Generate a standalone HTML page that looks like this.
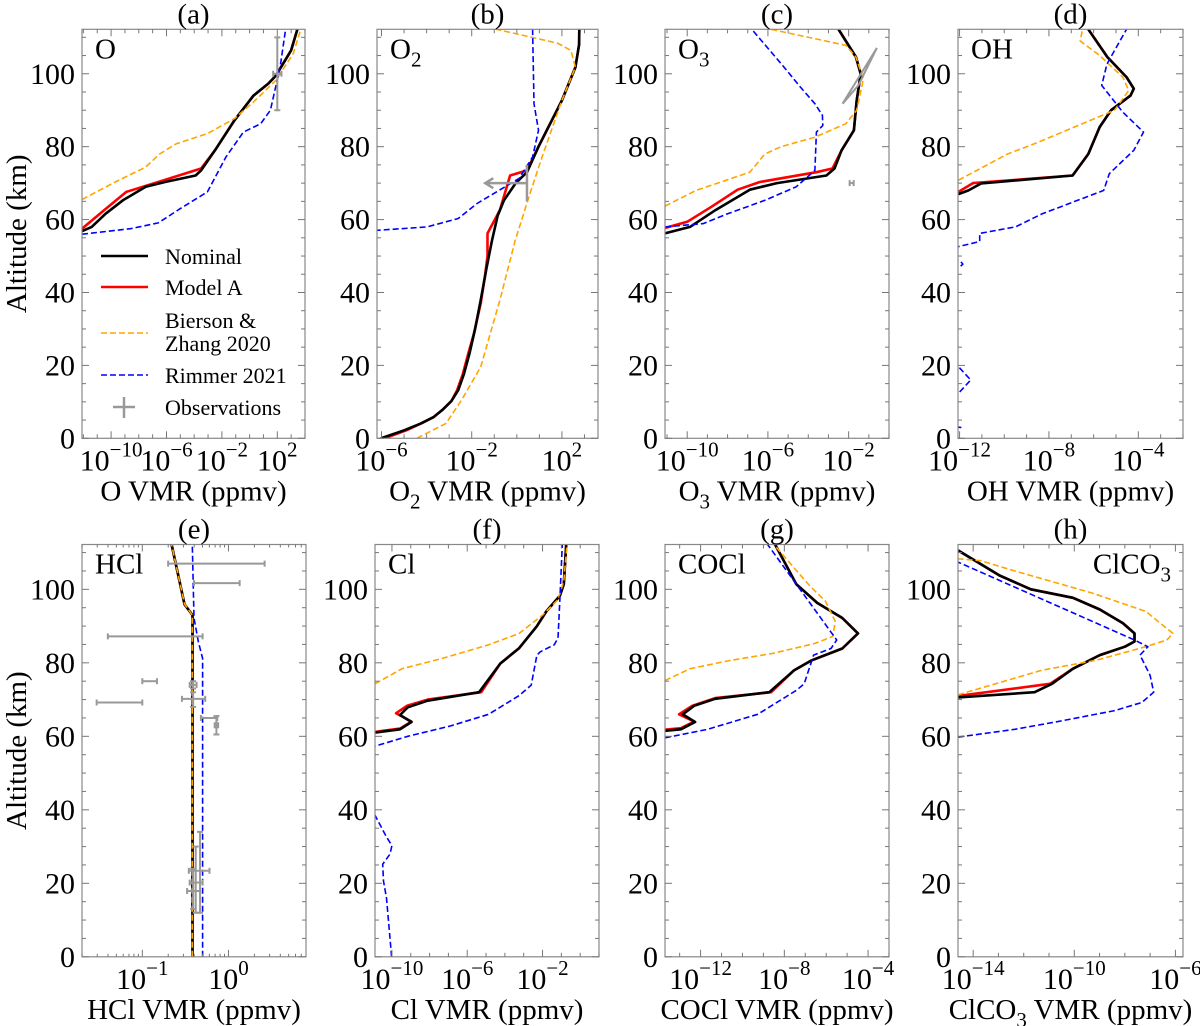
<!DOCTYPE html>
<html><head><meta charset="utf-8"><style>
html,body{margin:0;padding:0;background:#fff;}
svg{display:block;font-family:"Liberation Serif","Times New Roman",serif;}
</style></head><body>
<svg id="fig" width="1200" height="1026" viewBox="0 0 1200 1026" xmlns="http://www.w3.org/2000/svg"></svg>
<script>
// ---- data: [log10 VMR (ppmv), altitude km] ----
const O_nom=[[-12.1,56.8],[-11.4,58],[-10.4,61.6],[-9.15,65.3],[-7.5,69],[-6.1,70.3],[-3.9,72.1],[-3.5,73.5],[-2.5,79],[-1.1,87.2],[0.28,94],[1.35,97.3],[1.9,99.5],[3.0,106.4],[3.45,112.2]];
const O_modA=[[-12.1,57.5],[-10.5,62.6],[-8.9,67.6],[-6.6,70.3],[-3.5,74],[-2.5,79],[-1.1,87.2],[0.28,94],[1.35,97.3],[1.9,99.5],[3.0,106.4],[3.45,112.2]];
const O_bz=[[-12.1,65.5],[-9.7,70.3],[-7.5,74.4],[-6.5,78],[-5.3,80.8],[-3.05,83.6],[-1.1,87.7],[0.27,92.2],[1.9,98.2],[3.15,105.5],[3.7,112.2]];
const O_r21=[[-12.1,56],[-8.6,57.5],[-6.6,59.1],[-5,63],[-3.05,67.6],[-1.7,77.2],[-0.45,84],[0.8,86.3],[1.5,90],[2.2,101.8],[2.6,112.2]];
const O2_nom=[[-6.03,0],[-5.0,2.2],[-4.25,4.1],[-3.7,5.8],[-3.3,7.8],[-2.9,10.2],[-2.6,13.2],[-2.35,17.5],[-2.1,23.3],[-1.85,30],[-1.6,37.9],[-1.35,46.5],[-1.1,54.3],[-0.85,61],[-0.57,65.3],[-0.05,70],[0.45,73],[0.96,80],[2.0,92.7],[2.6,101.8],[2.76,108],[2.77,112.2]];
const O2_modA=[[-5.86,0],[-4.9,2.2],[-4.25,4.1],[-3.7,5.8],[-3.3,7.8],[-2.9,10.2],[-2.65,13.2],[-2.4,17.5],[-2.15,23.3],[-1.9,28.8],[-1.6,37],[-1.4,45],[-1.3,50],[-1.3,56.2],[-0.75,62.6],[-0.3,72.1],[0.45,73.5],[0.96,80],[2.0,92.7],[2.6,101.8],[2.76,108],[2.77,112.2]];
const O2_bz=[[-4.43,0],[-3.14,4.1],[-2.45,10.5],[-1.6,19.6],[-0.75,37.9],[-0.07,54.3],[0.63,68],[1.12,77.2],[2.0,92.7],[2.6,101.8],[2.4,106.4],[1.81,108.4],[-0.9,112.2]];
const O2_r21=[[-6.3,57],[-3.98,58],[-2.6,60.3],[-1.76,64.4],[-0.9,67.6],[0.1,71.3],[0.7,77.2],[0.96,84.5],[0.76,91.8],[0.7,112.2]];
const O3_nom=[[-11.1,56.2],[-9.86,58],[-8.6,62.6],[-6.9,68.2],[-5.55,70],[-3.1,72.1],[-2.7,74],[-2.35,79],[-1.74,84.5],[-1.6,92.7],[-1.4,100],[-1.64,104.6],[-2.5,112.2]];
const O3_modA=[[-11.1,57.7],[-10.0,59.4],[-8.8,63.5],[-7.5,68.2],[-6.4,70.3],[-3.6,73],[-2.8,74],[-2.35,79],[-1.74,84.5],[-1.6,92.7],[-1.4,100],[-1.64,104.6],[-2.5,112.2]];
const O3_bz=[[-11.1,63.7],[-9.56,68],[-6.9,73],[-6.15,78],[-5.35,80],[-3.67,82.6],[-2.14,86.3],[-1.6,90],[-1.27,98.6],[-1.64,104.6],[-2.14,107.8],[-5.85,112.2]];
const O3_r21=[[-11.1,58],[-9.2,58.9],[-8.0,61.6],[-6.15,65.3],[-4.6,69],[-3.67,73.5],[-3.6,84],[-3.28,85.8],[-3.3,88.6],[-3.67,91.8],[-4.4,96.4],[-5.2,101.8],[-6.8,112.2]];
const O3_obsLine=[[-2.3,91.8],[-0.6,107.1],[-1.52,96.8],[-2.3,91.8]];
const OH_nom=[[-12.05,67],[-11.6,68],[-11.04,69.9],[-6.94,72.1],[-6.24,78],[-5.73,85.4],[-5.22,90],[-4.35,94],[-4.2,95.9],[-4.53,99.1],[-5.39,104.6],[-6.24,112.2]];
const OH_modA=[[-12.05,67.6],[-11.4,70],[-6.94,72.1],[-6.24,78],[-5.73,85.4],[-5.22,90],[-4.35,94],[-4.2,95.9],[-4.53,99.1],[-5.39,104.6],[-6.24,112.2]];
const OH_bz=[[-12.05,70.8],[-9.85,78],[-8.65,80.8],[-5.06,90],[-4.43,95.4],[-4.7,99.1],[-5.73,105],[-6.6,109],[-6.5,112.2]];
const OH_r21=[[-14,1.5],[-11.95,3],[-14,4.5],[-14,11],[-12.1,12],[-11.5,16],[-12.1,20],[-14,21],[-14,46],[-12.0,47],[-11.85,47.8],[-12.0,48.8],[-14,50],[-14,52],[-12.1,52.5],[-11.1,54],[-11.1,56.2],[-9.5,58],[-8.3,61.6],[-5.55,68],[-5.3,72.6],[-4.2,79],[-3.77,84],[-4.7,89.5],[-5.64,96.8],[-5.4,102.7],[-4.53,112.2]];
const HCl_nom=[[-0.417,0],[-0.417,93],[-0.51,95.9],[-0.66,112.2]];
const HCl_modA=[[-0.417,0],[-0.417,93],[-0.51,95.9],[-0.66,112.2]];
const HCl_bz=[[-0.42,0],[-0.42,93],[-0.51,96],[-0.66,112.2]];
const HCl_r21=[[-0.3,0],[-0.3,81.2],[-0.35,85.8],[-0.4,92.2],[-0.42,112.2]];
// obs: [value, alt, xlo, xhi, altlo, althi]
const HCl_obs=[[0.16,107,-0.7,0.42,107,107],[-0.06,101.7,-0.4,0.13,101.7,101.7],[-0.57,87.2,-1.4,-0.3,87.2,87.2],[-0.91,75,-1.0,-0.83,75,75],[-1.2,69.2,-1.53,-1.0,69.2,69.2],[-0.41,74,-0.45,-0.37,73,75],[-0.41,70.2,-0.54,-0.27,68,72],[-0.24,65,-0.32,-0.13,65,65],[-0.14,63,-0.16,-0.12,60.5,65.5],[-0.33,23.4,-0.46,-0.22,12,34],[-0.38,20.2,-0.45,-0.3,12,30],[-0.41,17.9,-0.48,-0.33,13,24]];
const O_obs=[[2.0,100,1.7,2.3,90,110]];
const O3_obs=[[-1.85,70,-1.95,-1.75,70,70]];
const Cl_nom=[[-10.9,61],[-9.57,61.9],[-8.96,63.9],[-9.57,65.8],[-9.16,67.9],[-8.1,69.7],[-5.37,72],[-4.25,79.8],[-3.24,84],[-2.31,89.9],[-1.8,94],[-1.08,98.2],[-0.87,101.4],[-0.74,112.2]];
const Cl_modA=[[-10.9,61.2],[-9.57,62.1],[-8.96,64],[-9.78,66.3],[-9.2,68.3],[-8.1,70],[-5.26,72],[-4.25,79.8],[-3.24,84],[-2.31,89.9],[-1.8,94],[-1.08,98.2],[-0.87,101.4],[-0.74,112.2]];
const Cl_bz=[[-10.9,74.3],[-9.46,78.4],[-7.33,81.2],[-4.86,84.9],[-3.24,88],[-2.0,93],[-1.18,97.2],[-0.87,102.3],[-0.7,112.2]];
const Cl_r21=[[-10.02,0],[-10.29,16],[-10.45,20.6],[-10.49,25.2],[-10.1,28],[-10.0,30.3],[-10.29,32.6],[-10.9,38.5],[-13,45],[-13,56],[-10.9,57.3],[-9.16,60],[-6.9,62.8],[-4.86,66],[-3.24,71.1],[-2.6,73.9],[-2.3,82.1],[-2.12,83],[-1.38,84.9],[-1.18,86.7],[-1.08,96.8],[-0.95,112.2]];
const COCl_nom=[[-13.7,61.5],[-12.94,61.9],[-12.26,63.9],[-12.85,66],[-12.31,68.3],[-11.3,70.2],[-8.72,72],[-7.53,78],[-6.69,80.7],[-5.23,83.9],[-4.48,88],[-5.23,92.2],[-6.43,96.3],[-7.43,101.4],[-8.44,112.2]];
const COCl_modA=[[-13.7,61.8],[-12.94,62.2],[-12.3,64],[-13.03,66],[-12.4,68.3],[-11.3,70.4],[-8.63,72],[-7.53,78],[-6.69,80.7],[-5.23,83.9],[-4.48,88],[-5.23,92.2],[-6.43,96.3],[-7.43,101.4],[-8.44,112.2]];
const COCl_bz=[[-13.7,75.2],[-12.5,78.4],[-10.73,80.5],[-8.53,82.6],[-6.52,85.3],[-5.68,87.2],[-5.57,91.3],[-6.04,96.8],[-6.78,100.9],[-7.62,106.4],[-8.5,112.2]];
const COCl_r21=[[-13.7,59.6],[-11.66,61.9],[-9.27,66],[-7.43,72.5],[-7.05,74.3],[-6.6,82.1],[-5.77,83.9],[-5.5,86.2],[-8.8,112.2]];
const ClCO3_nom=[[-14.6,70.6],[-11.57,72],[-10.88,74.3],[-10.05,78.4],[-8.99,82.1],[-8.0,84.4],[-7.62,85.8],[-7.62,88],[-8.08,90.8],[-8.99,94.5],[-10.05,97.7],[-11.72,100],[-12.94,103.7],[-14.6,110.6]];
const ClCO3_modA=[[-14.6,71],[-10.96,74.3],[-10.05,78.4],[-8.99,82.1],[-8.0,84.4],[-7.62,85.8],[-7.62,88],[-8.08,90.8],[-8.99,94.5],[-10.05,97.7],[-11.72,100],[-12.94,103.7],[-14.6,110.6]];
const ClCO3_bz=[[-14.6,71.3],[-11.28,78],[-9.14,80.7],[-7.17,84.4],[-6.34,86.2],[-6.1,88],[-7.17,94],[-9.3,99],[-12.35,105],[-13.7,107.8],[-14.6,108.3]];
const ClCO3_r21=[[-14.6,59.8],[-12.35,61.9],[-10.51,64.2],[-8.4,67],[-7.33,69.2],[-6.86,72],[-7.0,76.6],[-7.4,82.1],[-7.09,84.4],[-7.62,86.2],[-10.51,95],[-14.6,107.4]];
const altTicks=[0,20,40,60,80,100];
const altRange=[0,112.2];

const NS="http://www.w3.org/2000/svg";
const svg=document.getElementById('fig');
function mk(tag,attrs,parent){const e=document.createElementNS(NS,tag);for(const k in attrs)e.setAttribute(k,attrs[k]);(parent||svg).appendChild(e);return e;}

const panels=[
 {id:'a',name:'o',L:82,R:305,T:29.3,B:438.3,xr:[-12.1,4.0],lab:[-10,-6,-2,2],sp:['O',''],xl:['O',''],s:[O_nom,O_modA,O_bz,O_r21],obs:O_obs,yl:true,legend:true},
 {id:'b',name:'o2',L:377,R:598,T:29.3,B:438.3,xr:[-6.2,3.6],lab:[-6,-2,2],sp:['O','2'],xl:['O','2'],s:[O2_nom,O2_modA,O2_bz,O2_r21]},
 {id:'c',name:'o3',L:665,R:889,T:29.3,B:438.3,xr:[-11.1,0],lab:[-10,-6,-2],sp:['O','3'],xl:['O','3'],s:[O3_nom,O3_modA,O3_bz,O3_r21],obs:O3_obs},
 {id:'d',name:'oh',L:958,R:1183,T:29.3,B:438.3,xr:[-12.07,-2.0],lab:[-12,-8,-4],sp:['OH',''],xl:['OH',''],s:[OH_nom,OH_modA,OH_bz,OH_r21]},
 {id:'e',name:'hcl',L:82,R:306,T:544.5,B:956.8,xr:[-1.7,0.9],lab:[-1,0],sp:['HCl',''],xl:['HCl',''],s:[HCl_nom,HCl_modA,HCl_bz,HCl_r21],obs:HCl_obs,yl:true,fine:true},
 {id:'f',name:'cl',L:375,R:599,T:544.5,B:956.8,xr:[-10.9,1.0],lab:[-10,-6,-2],sp:['Cl',''],xl:['Cl',''],s:[Cl_nom,Cl_modA,Cl_bz,Cl_r21]},
 {id:'g',name:'cocl',L:665,R:889,T:544.5,B:956.8,xr:[-13.7,-3.0],lab:[-12,-8,-4],sp:['COCl',''],xl:['COCl',''],s:[COCl_nom,COCl_modA,COCl_bz,COCl_r21]},
 {id:'h',name:'clco3',L:958,R:1183,T:544.5,B:956.8,xr:[-14.6,-5.7],lab:[-14,-10,-6],sp:['ClCO','3'],xl:['ClCO','3'],s:[ClCO3_nom,ClCO3_modA,ClCO3_bz,ClCO3_r21],spRight:true}
];
const styles=[
 {c:'#000000',w:2.6,d:null,n:'nominal'},
 {c:'#ff0000',w:2.6,d:null,n:'model-a'},
 {c:'#ffa500',w:1.6,d:'6,3',n:'bierson-zhang-2020'},
 {c:'#0000ff',w:1.6,d:'6,3',n:'rimmer-2021'}];
const drawOrder=[1,0,2,3];

panels.forEach(p=>{
  const g=mk('g',{});
  
  
  const X=v=>p.L+(v-p.xr[0])/(p.xr[1]-p.xr[0])*(p.R-p.L);
  const Y=a=>p.B-(a-altRange[0])/(altRange[1]-altRange[0])*(p.B-p.T);
  const cp=mk('clipPath',{id:'clip'+p.id},g);
  mk('rect',{x:p.L,y:p.T,width:p.R-p.L,height:p.B-p.T},cp);
  const plot=mk('g',{'clip-path':'url(#clip'+p.id+')'},g);
  drawOrder.forEach(i=>{
    const st=styles[i];
    const pts=p.s[i].map(q=>X(q[0]).toFixed(1)+','+Y(q[1]).toFixed(1)).join(' ');
    const pl=mk('polyline',{points:pts,fill:'none',stroke:st.c,'stroke-width':st.w,'stroke-linejoin':'round'},plot);
    if(st.d) pl.setAttribute('stroke-dasharray',st.d);
    
    
  });
  if(p.obs){
    p.obs.forEach(o=>{
      const e=mk('g',{stroke:'#999',fill:'none','stroke-width':2},plot);
      
      
      mk('line',{x1:X(o[2]),x2:X(o[3]),y1:Y(o[1]),y2:Y(o[1])},e);
      mk('line',{x1:X(o[2]),x2:X(o[2]),y1:Y(o[1])-3,y2:Y(o[1])+3},e);
      mk('line',{x1:X(o[3]),x2:X(o[3]),y1:Y(o[1])-3,y2:Y(o[1])+3},e);
      mk('line',{x1:X(o[0]),x2:X(o[0]),y1:Y(o[4]),y2:Y(o[5])},e);
      if(o[4]!==o[5]){
        mk('line',{x1:X(o[0])-3,x2:X(o[0])+3,y1:Y(o[4]),y2:Y(o[4])},e);
        mk('line',{x1:X(o[0])-3,x2:X(o[0])+3,y1:Y(o[5]),y2:Y(o[5])},e);
      }
    });
  }
  if(p.id==='b'){
    const e=mk('g',{stroke:'#999',fill:'none','stroke-width':2.5},plot);
    
    
    mk('line',{x1:X(0.45),x2:X(0.45),y1:Y(65),y2:Y(75)},e);
    mk('line',{x1:X(0.45),x2:X(-1.4),y1:Y(70),y2:Y(70)},e);
    mk('polyline',{points:`${X(-1.4)+8},${Y(70)-5} ${X(-1.4)},${Y(70)} ${X(-1.4)+8},${Y(70)+5}`},e);
  }
  if(p.id==='c'){
    const pl=mk('polyline',{points:O3_obsLine.map(q=>X(q[0])+','+Y(q[1])).join(' '),fill:'none',stroke:'#999','stroke-width':2},plot);
    
    
  }
  const fr=mk('rect',{x:p.L,y:p.T,width:p.R-p.L,height:p.B-p.T,fill:'none',stroke:'#888','stroke-width':1.2},g);
  
  
  const tk=mk('g',{stroke:'#777','stroke-width':1},g);
  for(let a=0;a<=110;a+=5){
    const len=(a%20===0)?7:4;
    mk('line',{x1:p.L,x2:p.L+len,y1:Y(a),y2:Y(a)},tk);
    mk('line',{x1:p.R,x2:p.R-len,y1:Y(a),y2:Y(a)},tk);
  }
  altTicks.forEach(a=>{
    const t=mk('text',{x:p.L-7,y:Y(a)+10,'text-anchor':'end','font-size':30},g);
    t.textContent=a;
    
    
  });
  const d0=Math.ceil(p.xr[0]),d1=Math.floor(p.xr[1]);
  for(let d=d0;d<=d1;d++){
    const maj=p.lab.includes(d);
    const len=maj?7:4;
    mk('line',{x1:X(d),x2:X(d),y1:p.B,y2:p.B-len},tk);
    mk('line',{x1:X(d),x2:X(d),y1:p.T,y2:p.T+len},tk);
  }
  if(p.fine){
    for(let d=Math.floor(p.xr[0]);d<=d1;d++){
      for(let m=2;m<=9;m++){
        const v=d+Math.log10(m);
        if(v>p.xr[0]&&v<p.xr[1]){
          mk('line',{x1:X(v),x2:X(v),y1:p.B,y2:p.B-3},tk);
          mk('line',{x1:X(v),x2:X(v),y1:p.T,y2:p.T+3},tk);
        }
      }
    }
  }
  p.lab.forEach(d=>{
    const t=mk('text',{x:X(d),y:p.B+32,'text-anchor':'middle','font-size':30},g);
    
    
    t.appendChild(document.createTextNode('10'));
    const s=mk('tspan',{dy:-14,'font-size':21},t);
    s.textContent=(d<0?'\u2212':'')+Math.abs(d);
  });
  const ti=mk('text',{x:(p.L+p.R)/2,y:p.T-6,'text-anchor':'middle','font-size':29},g);
  ti.textContent='('+p.id+')';
  
  
  const sp=mk('text',{x:p.spRight?p.R-12:p.L+13,y:p.T+29,'text-anchor':p.spRight?'end':'start','font-size':29},g);
  
  
  sp.appendChild(document.createTextNode(p.sp[0]));
  if(p.sp[1]){const s=mk('tspan',{dy:8,'font-size':21},sp);s.textContent=p.sp[1];}
  const xl=mk('text',{x:(p.L+p.R)/2,y:p.B+62,'text-anchor':'middle','font-size':29},g);
  
  
  xl.appendChild(document.createTextNode(p.xl[0]));
  if(p.xl[1]){const s=mk('tspan',{dy:8,'font-size':21},xl);s.textContent=p.xl[1];const r=mk('tspan',{dy:-8},xl);r.textContent=' VMR (ppmv)';}
  else xl.appendChild(document.createTextNode(' VMR (ppmv)'));
  if(p.yl){
    const cy=(p.T+p.B)/2;
    const yl=mk('text',{x:26,y:cy,transform:`rotate(-90 26 ${cy})`,'text-anchor':'middle','font-size':29},g);
    yl.textContent='Altitude (km)';
    
    
  }
  if(p.legend){
    const lg=mk('g',{},g);
    
    
    const rows=[[0,256,['Nominal']],[1,287,['Model A']],[2,333,['Bierson &','Zhang 2020']],[3,375,['Rimmer 2021']]];
    rows.forEach(r=>{
      const st=styles[r[0]];
      const ln=mk('line',{x1:101,x2:148,y1:r[1],y2:r[1],stroke:st.c,'stroke-width':st.w},lg);
      if(st.d) ln.setAttribute('stroke-dasharray',st.d);
      
      
      r[2].forEach((s,k)=>{
        const t=mk('text',{x:165,y:(r[2].length>1? r[1]-5+k*23 : r[1]+8),'font-size':22},lg);
        t.textContent=s;
        
        
      });
    });
    const ob=mk('g',{stroke:'#999','stroke-width':2.5},lg);
    
    
    mk('line',{x1:113,x2:135,y1:407,y2:407},ob);
    mk('line',{x1:124,x2:124,y1:397,y2:418},ob);
    const t=mk('text',{x:165,y:415,'font-size':22},lg);
    t.textContent='Observations';
    
    
  }
});
</script>
</body></html>
